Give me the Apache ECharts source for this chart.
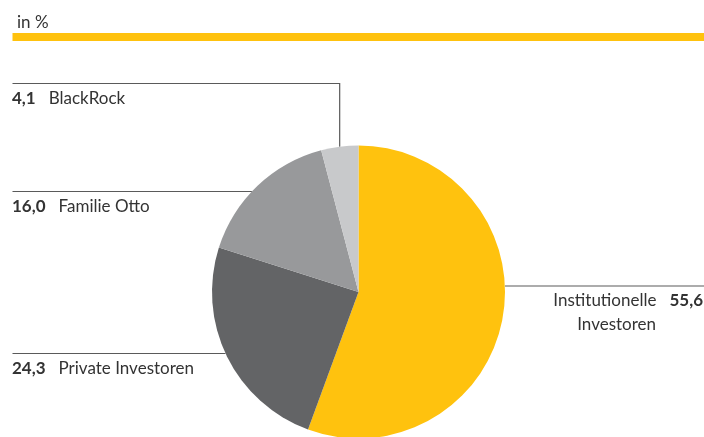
<!DOCTYPE html>
<html>
<head>
<meta charset="utf-8">
<script src="https://cdn.jsdelivr.net/npm/echarts@6/dist/echarts.min.js"></script>
<style>
  html, body { margin: 0; padding: 0; background: #fff; }
  #chart { width: 704px; height: 437px; }
</style>
</head>
<body>
<div id="chart"></div>
<script>
// Aktionärsstruktur in %
const categories = ['Institutionelle Investoren', 'Private Investoren', 'Familie Otto', 'BlackRock'];
const values = [55.6, 24.3, 16.0, 4.1];
const colors = ['#FFC20E', '#636466', '#98999B', '#C8C9CB'];

const FONT = 'Lato, "Noto Sans", sans-serif';
const FS = 17;
const CX = 358.5, CY = 292, R = 146.5;

// y of each horizontal leader line, by slice
const lineY = [286, 353.5, 191.5, 83.5];

function fmt(v) { return v.toFixed(1).replace('.', ','); }

function edgeX(y, side) {
  const dy = y - CY;
  const dx = Math.sqrt(Math.max(R * R - dy * dy, 0));
  return side < 0 ? CX - dx : CX + dx;
}

const chart = echarts.init(document.getElementById('chart'), null, { renderer: 'canvas' });

chart.setOption({
  animation: false,
  title: {
    text: 'in %',
    left: 12,
    top: 9,
    textStyle: { fontFamily: FONT, fontSize: FS, fontWeight: 'normal', color: '#333' }
  },
  graphic: [{
    type: 'rect',
    shape: { x: 12.5, y: 33, width: 692, height: 8 },
    style: { fill: '#FFC20E' },
    silent: true
  }],
  series: [{
    type: 'pie',
    center: [CX, CY],
    radius: [0, R],
    startAngle: 90,
    clockwise: true,
    data: categories.map((name, i) => ({ name, value: values[i], itemStyle: { color: colors[i] } })),
    itemStyle: { borderWidth: 0 },
    emphasis: { disabled: true },
    label: {
      show: true,
      overflow: 'none',
      fontFamily: FONT,
      fontSize: FS,
      color: '#333',
      formatter: function (p) {
        if (p.dataIndex === 0) {
          const parts = p.name.split(' ');
          return '{n|' + parts[0] + '}{g|}{v|' + fmt(p.value) + '}\n{n|' + parts[1] + '}{s|}';
        }
        return '{v|' + fmt(p.value) + '}{g|}{n|' + p.name + '}';
      },
      rich: {
        v: { fontFamily: FONT, fontSize: FS, fontWeight: 'bold', color: '#333', lineHeight: 24 },
        n: { fontFamily: FONT, fontSize: FS, color: '#333', lineHeight: 24 },
        g: { width: 13, lineHeight: 24 },
        s: { width: 47, lineHeight: 24 }
      }
    },
    labelLine: {
      show: true,
      lineStyle: { color: '#5a5a5a', width: 1.2 }
    },
    labelLayout: function (params) {
      const i = params.dataIndex;
      const y = lineY[i];
      if (i === 0) {
        const x0 = edgeX(y, 1);
        return {
          x: 703, y: y + 3, align: 'right', verticalAlign: 'top',
          labelLinePoints: [[x0, y], [x0, y], [704, y]]
        };
      }
      if (i === 3) {
        const p = params.labelLinePoints[0];
        return {
          x: 12, y: y + 3, align: 'left', verticalAlign: 'top',
          labelLinePoints: [[p[0], p[1]], [p[0], y], [12.5, y]]
        };
      }
      const x0 = edgeX(y, -1);
      return {
        x: 12, y: y + 3, align: 'left', verticalAlign: 'top',
        labelLinePoints: [[x0, y], [x0, y], [12.5, y]]
      };
    }
  }]
});
</script>
</body>
</html>
